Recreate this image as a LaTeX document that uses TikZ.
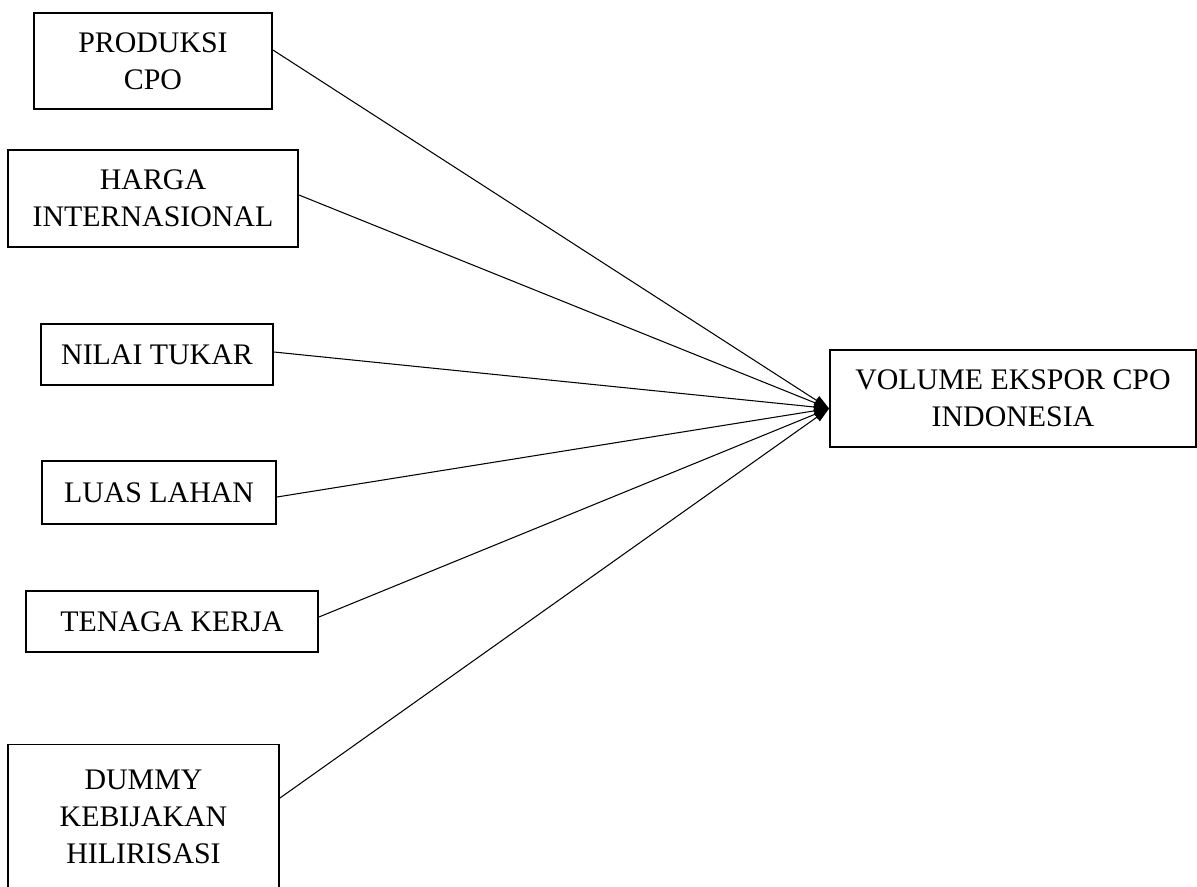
\documentclass[tikz,border=0pt]{standalone}
\usepackage{fontspec}
\setmainfont{Liberation Serif}
\usetikzlibrary{arrows.meta,positioning}

\begin{document}
\begin{tikzpicture}[x=0.02cm,y=-0.02cm,>={Triangle[length=0.3cm,width=0.2cm]},
    var/.style={draw,line width=1.1pt,align=center,inner sep=2pt,font=\fontsize{17}{21}\selectfont},
    link/.style={->,line width=0.6pt}]
      \useasboundingbox (0,0) rectangle (1197,886);
      \node[var,minimum width=4.76cm,minimum height=1.92cm] (prod) at (153,61) {PRODUKSI\\CPO};
      \node[var,minimum width=5.8cm,minimum height=1.94cm] (harga) at (153,198.5) {HARGA\\INTERNASIONAL};
      \node[var,minimum width=4.64cm,minimum height=1.22cm] (kurs) at (157,354.5) {NILAI TUKAR};
      \node[var,minimum width=4.68cm,minimum height=1.26cm] (lahan) at (159,492.5) {LUAS LAHAN};
      \node[var,minimum width=5.84cm,minimum height=1.22cm] (naker) at (172,621.5) {TENAGA KERJA};
      \node[var,minimum width=5.42cm,minimum height=2.9cm] (dummy) at (143.5,817) {DUMMY\\KEBIJAKAN\\HILIRISASI};
      \node[var,minimum width=7.32cm,minimum height=1.94cm] (ekspor) at (1013,398.5) {VOLUME EKSPOR CPO\\INDONESIA};
      \coordinate (hub) at ([yshift=-0.2cm]ekspor.west);
      \draw[link] ([yshift=0.22cm]prod.east) -- (hub);
      \draw[link] ([yshift=0.07cm]harga.east) -- (hub);
      \draw[link] ([yshift=0.05cm]kurs.east) -- (hub);
      \draw[link] ([yshift=-0.09cm]lahan.east) -- (hub);
      \draw[link] ([yshift=0.09cm]naker.east) -- (hub);
      \draw[link] ([yshift=0.38cm]dummy.east) -- (hub);
    \end{tikzpicture}
\end{document}
